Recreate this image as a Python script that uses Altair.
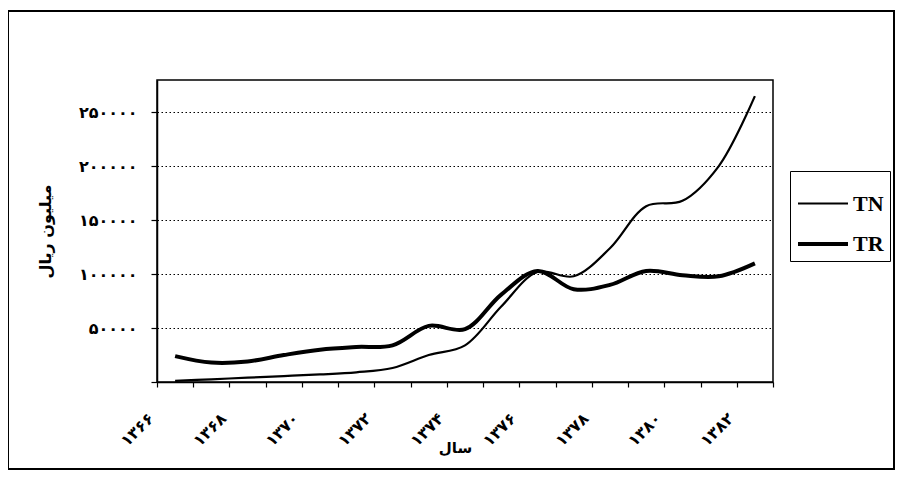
import altair as alt
import pandas as pd

# ---- data ----
years = [1366, 1367, 1368, 1369, 1370, 1371, 1372, 1373, 1374,
         1375, 1376, 1377, 1378, 1379, 1380, 1381, 1382]
tn_values = [1000, 2500, 4000, 5500, 7000, 9000, 13000, 25000, 34000,
             70000, 102000, 98000, 124000, 163000, 168000, 200000, 265000]
tr_values = [24000, 18000, 19000, 25000, 30000, 32500, 34000, 52000, 49000,
             81000, 103000, 86000, 90000, 103000, 99000, 98000, 110000]
series_names = ["TN", "TR"]

x_label_years = [1366, 1368, 1370, 1372, 1374, 1376, 1378, 1380, 1382]
x_label_texts = ["۱۳۶۶", "۱۳۶۸", "۱۳۷۰", "۱۳۷۲", "۱۳۷۴", "۱۳۷۶", "۱۳۷۸", "۱۳۸۰", "۱۳۸۲"]
y_tick_values = [0, 50000, 100000, 150000, 200000, 250000]
y_tick_texts = ["", "۵۰۰۰۰", "۱۰۰۰۰۰", "۱۵۰۰۰۰", "۲۰۰۰۰۰", "۲۵۰۰۰۰"]
y_title = "میلیون ریال"
x_title = "سال"

df = pd.DataFrame({
    "year": years * 2,
    "value": tn_values + tr_values,
    "series": ["TN"] * len(years) + ["TR"] * len(years),
})

# category boundaries for the tick marks (Excel-style category axis)
boundaries = [y - 0.5 for y in years] + [years[-1] + 0.5]


def label_expr(vals, texts):
    expr = "''"
    for v, t in reversed(list(zip(vals, texts))):
        expr = f"datum.value == {v} ? '{t}' : ({expr})"
    return expr


x_scale = alt.Scale(domain=[years[0] - 0.5, years[-1] + 0.5], nice=False, zero=False)
y_scale = alt.Scale(domain=[0, 280000], nice=False)

W, H = 616, 302
PL, PT = 149, 72
PR = 887 - PL - W
PB = 463 - PT - H

y_axis = alt.Axis(values=y_tick_values,
                  labelExpr=label_expr(y_tick_values, y_tick_texts),
                  grid=True, gridColor="black", gridDash=[1.5, 2.5], gridWidth=1,
                  tickSize=6, tickColor="black", tickWidth=1.2,
                  domainColor="black", domainWidth=1.5,
                  labelFont="DejaVu Sans", labelFontWeight="bold", labelFontSize=16,
                  labelColor="black", labelPadding=14,
                  title=y_title, titleFont="DejaVu Sans", titleFontWeight="bold",
                  titleFontSize=16, titleColor="black", titleX=-112, titleY=H / 2,
                  titleAlign="center", titleBaseline="middle", titleAngle=-90,
                  orient="left")

legend_def = alt.Legend(
    title=None, orient="none", legendX=633, legendY=91,
    symbolType="stroke", symbolSize=2500, symbolStrokeColor="black",
    labelFont="Liberation Serif", labelFontSize=22, labelFontWeight="bold",
    labelColor="black",
    strokeColor="black", fillColor="white", padding=6, rowPadding=2,
    labelOffset=3,
)

lines = alt.Chart(df).mark_line(interpolate="catmull-rom", color="black").encode(
    x=alt.X("year:Q", scale=x_scale,
            axis=alt.Axis(values=boundaries, labels=False, grid=False, tickSize=5,
                          tickColor="black", domainColor="black", domainWidth=1.5,
                          tickWidth=1.2, title=None, orient="bottom")),
    y=alt.Y("value:Q", scale=y_scale, axis=y_axis),
    color=alt.Color("series:N", scale=alt.Scale(domain=series_names, range=["black", "black"]),
                    legend=legend_def),
    strokeWidth=alt.StrokeWidth("series:N", scale=alt.Scale(domain=series_names, range=[2.2, 4]),
                                legend=legend_def),
)

labels_layer = alt.Chart(df).mark_point(opacity=0).encode(
    x=alt.X("year:Q", scale=x_scale,
            axis=alt.Axis(values=x_label_years,
                          labelExpr=label_expr(x_label_years, x_label_texts),
                          ticks=False, domain=False, grid=False, labelAngle=-45,
                          labelFont="DejaVu Sans", labelFontWeight="bold", labelFontSize=16,
                          labelColor="black", labelPadding=28, labelOffset=-30,
                          title=x_title, titleFont="DejaVu Sans", titleFontWeight="bold",
                          titleFontSize=15, titleColor="black", titleX=298, titleY=65,
                          titleAlign="center", titleBaseline="middle", orient="bottom")),
    y=alt.Y("value:Q", scale=y_scale, axis=y_axis),
)

frame = alt.Chart(pd.DataFrame({"a": [0]})).mark_rect(
    fillOpacity=0, stroke="black", strokeWidth=2, clip=False
).encode(
    x=alt.value(-PL), x2=alt.value(W + PR - 1),
    y=alt.value(-PT + 3), y2=alt.value(H + PB - 2),
)

chart = alt.layer(lines, labels_layer, frame).resolve_axis(
    x="independent", y="shared"
).properties(
    width=W, height=H,
    padding={"left": PL, "top": PT, "right": PR, "bottom": PB},
    autosize=alt.AutoSizeParams(type="none"),
    background="white",
).configure_view(stroke="black", strokeWidth=1.5)

chart.save("out.html", embed_options={"renderer": "svg", "actions": False})
